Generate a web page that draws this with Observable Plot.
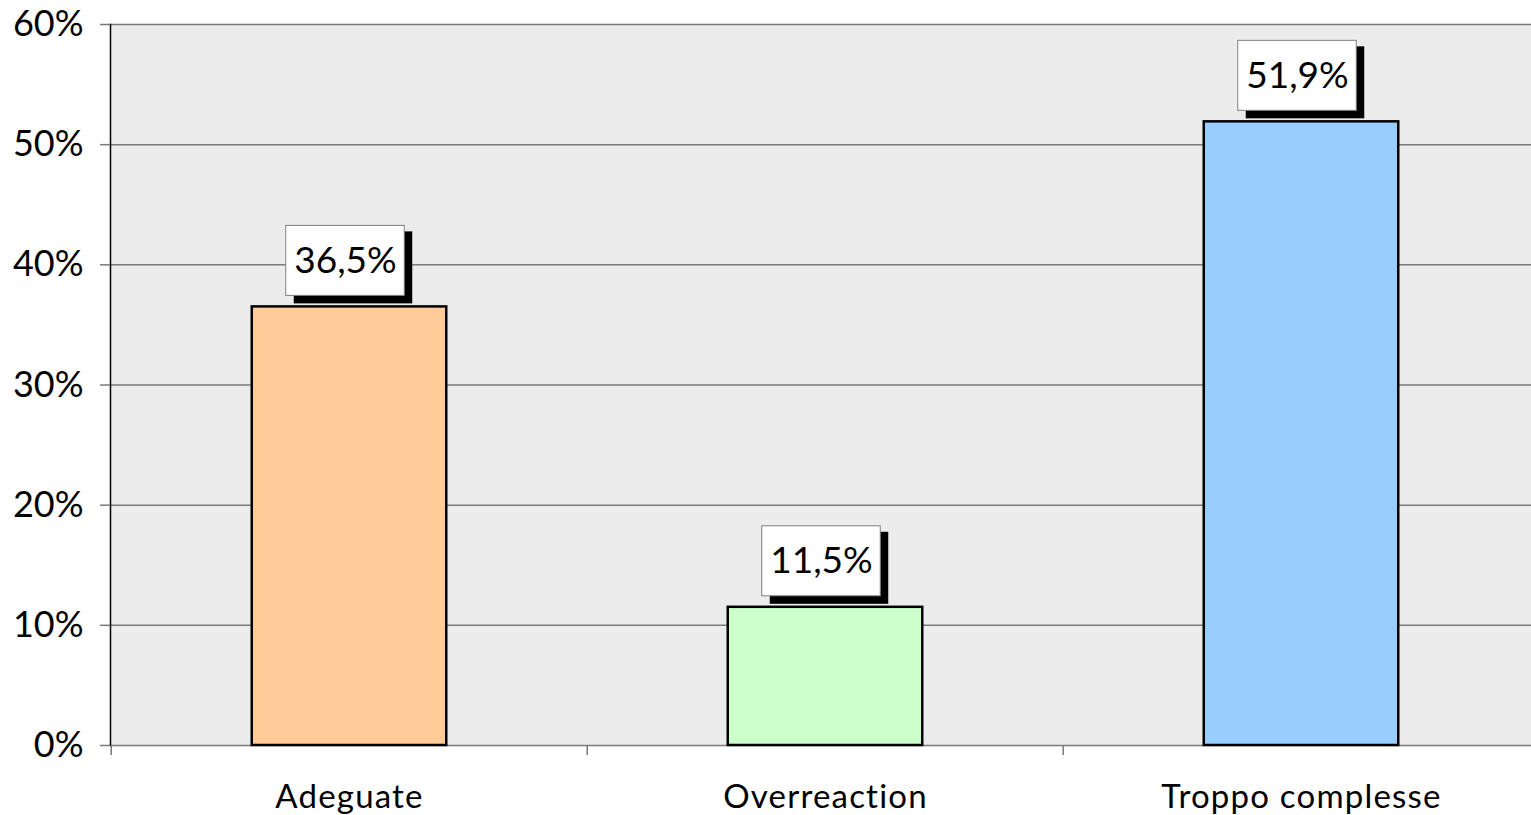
<!DOCTYPE html>
<html>
<head>
<meta charset="utf-8">
<script src="https://cdn.jsdelivr.net/npm/d3@7"></script>
<script src="https://cdn.jsdelivr.net/npm/@observablehq/plot@0.6"></script>
<style>
  html, body { margin: 0; padding: 0; background: #ffffff; overflow: hidden; }
  #chart svg { display: block; }
  #chart g[aria-label="x-axis tick label"] text { letter-spacing: 1.2px; }
</style>
</head>
<body>
<div id="chart"></div>
<script>
// Data
const categories = ["Adeguate", "Overreaction", "Troppo complesse"];
const values = [0.365, 0.115, 0.519];
const colors = ["#FFCC99", "#CCFFCC", "#99CCFF"];
const yTicks = [0, 0.1, 0.2, 0.3, 0.4, 0.5, 0.6];

const data = categories.map((c, i) => ({category: c, value: values[i], color: colors[i]}));

const W = 1531, H = 815;
const mLeft = 110, mTop = 24, mBottom = 70;
const xRange = [mLeft, 1539.5];
const step = (xRange[1] - xRange[0]) / categories.length;
const barW = 195, boxW = 119;
const fmtPct = d => Math.round(d * 100) + "%";
const fmtVal = v => (v * 100).toFixed(1).replace(".", ",") + "%";
const font = "Lato, 'DejaVu Sans', sans-serif";

const chart = Plot.plot({
  width: W,
  height: H,
  marginLeft: mLeft,
  marginRight: 0,
  marginTop: mTop,
  marginBottom: mBottom,
  style: {fontFamily: font, background: "#ffffff", overflow: "visible"},
  x: {domain: categories, range: xRange, padding: 0, label: null},
  y: {domain: [0, 0.6], label: null},
  marks: [
    Plot.frame({fill: "#ECECEC", stroke: null}),
    Plot.ruleY(yTicks, {stroke: "#7a7a7a", strokeWidth: 1.5}),
    Plot.frame({anchor: "left", stroke: "#000", strokeWidth: 1.5}),
    // x tick marks at band boundaries
    Plot.ruleX(data, {x: "category", y1: 0, y2: 0, insetBottom: -10, dx: -step / 2, stroke: "#7a7a7a", strokeWidth: 1.5}),
    Plot.axisY({ticks: yTicks, tickFormat: fmtPct, label: null, tickSize: 10, tickPadding: 17, stroke: "#7a7a7a", strokeWidth: 1.5, fontSize: 36, fill: "#000", fontFamily: font}),
    Plot.axisX({label: null, tickSize: 0, tickPadding: 39, fontSize: 33, fill: "#000", fontFamily: font}),
    Plot.barY(data, {
      x: "category", y: "value", fill: "color",
      stroke: "#000", strokeWidth: 2.5,
      insetLeft: (step - barW) / 2, insetRight: (step - barW) / 2
    }),
    // label shadow
    Plot.barY(data, {
      x: "category", y1: "value", y2: "value",
      insetTop: -36, insetBottom: -36,
      insetLeft: (step - boxW) / 2, insetRight: (step - boxW) / 2,
      dx: 4, dy: -39, fill: "#000"
    }),
    // label box
    Plot.barY(data, {
      x: "category", y1: "value", y2: "value",
      insetTop: -35, insetBottom: -35,
      insetLeft: (step - boxW) / 2, insetRight: (step - boxW) / 2,
      dx: -4, dy: -46, fill: "#fff", stroke: "#808080", strokeWidth: 1
    }),
    Plot.text(data, {
      x: "category", y: "value", text: d => fmtVal(d.value),
      dx: -4, dy: -46, fontSize: 37, fill: "#000", fontFamily: font
    })
  ]
});
document.getElementById("chart").appendChild(chart);
</script>
</body>
</html>
